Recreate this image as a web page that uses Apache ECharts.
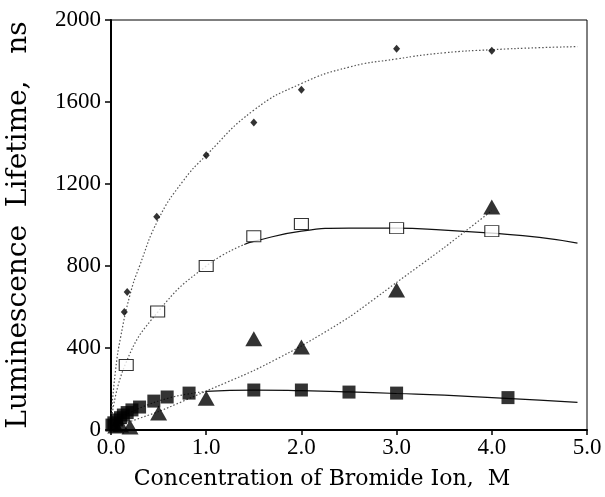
<!DOCTYPE html>
<html><head><meta charset="utf-8">
<script src="https://cdn.jsdelivr.net/npm/echarts@6/dist/echarts.min.js"></script>
<style>html,body{margin:0;padding:0;background:#fff}#c{width:605px;height:497px}</style>
</head><body><div id="c"></div>
<script>
// data
const diamondPts = [[0.14,576],[0.17,673],[0.48,1040],[1.0,1340],[1.5,1500],[2.0,1660],[3.0,1860],[4.0,1850]];
const diamondFit = [[0,60],[0.05,300],[0.1,450],[0.2,660],[0.3,800],[0.5,1030],[0.75,1210],[1.0,1340],[1.5,1560],[2.0,1690],[2.5,1770],[3.0,1810],[3.5,1840],[4.0,1855],[4.5,1865],[4.9,1870]];
const openSqPts = [[0.16,317],[0.49,578],[1.0,800],[1.5,945],[2.0,1005],[3.0,985],[4.0,970]];
const openSqFitA = [[0,30],[0.15,320],[0.5,580],[1.0,800],[1.4,905]];
const openSqFitB = [[1.4,905],[1.5,920],[2.0,970],[2.5,985],[3.0,985],[3.5,975],[4.0,960],[4.5,940],[4.9,912]];
const triPts = [[0.05,20],[0.1,25],[0.2,15],[0.5,83],[1.0,155],[1.5,445],[2.0,405],[3.0,683],[4.0,1088]];
const triFit = [[0,10],[0.5,90],[1.0,190],[1.5,290],[2.0,410],[2.5,550],[3.0,720],[3.5,890],[4.0,1070]];
const fillSqPts = [[0.01,24],[0.03,35],[0.06,49],[0.1,60],[0.13,73],[0.17,85],[0.22,98],[0.3,112],[0.45,141],[0.59,161],[0.82,180],[1.5,195],[2.0,195],[2.5,185],[3.0,180],[4.17,158]];
const fillSqFitA = [[0,20],[0.1,60],[0.2,85],[0.4,125],[0.6,155],[0.8,175],[1.0,188]];
const fillSqFitB = [[1.0,188],[1.5,195],[2.0,192],[2.5,186],[3.0,178],[3.5,170],[4.0,158],[4.5,146],[4.9,135]];
const xTicks = ['0.0','1.0','2.0','3.0','4.0','5.0'];
const yTicks = ['0','400','800','1200','1600','2000'];

const serif = 'Liberation Serif';
const wide = 'DejaVu Serif';
const chart = echarts.init(document.getElementById('c'));
const dotted = (data, sm) => ({type:'line', data, symbol:'none', smooth:sm, lineStyle:{color:'#555', width:1.2, type:[1.5,2]}, z:1});
const solid = (data) => ({type:'line', data, symbol:'none', smooth:true, lineStyle:{color:'#111', width:1.2}, z:1});
chart.setOption({
  animation:false,
  grid:{left:111, right:18, top:20, bottom:67, show:true, borderColor:'#000', borderWidth:1, outerBoundsMode:'none', containLabel:false},
  xAxis:{type:'value', min:0, max:5, interval:1,
    name:'Concentration of Bromide Ion,  M', nameLocation:'middle', nameGap:38,
    nameTextStyle:{fontFamily:wide, fontSize:22, color:'#000', padding:[0,54,0,0]},
    axisLine:{lineStyle:{color:'#000', width:2}}, axisTick:{length:5, lineStyle:{color:'#000', width:1.5}},
    axisLabel:{fontFamily:serif, fontSize:23, color:'#000', margin:6, formatter:(v)=>xTicks[Math.round(v)]},
    splitLine:{show:false}},
  yAxis:{type:'value', min:0, max:2000, interval:400,
    name:'Luminescence  Lifetime,   ns', nameLocation:'middle', nameGap:78,
    nameTextStyle:{fontFamily:wide, fontSize:28, color:'#000'},
    axisLine:{lineStyle:{color:'#000', width:2}}, axisTick:{length:6, lineStyle:{color:'#000', width:1.5}},
    axisLabel:{fontFamily:serif, fontSize:23, color:'#000', margin:10, formatter:(v)=>yTicks[Math.round(v/400)]},
    splitLine:{show:false}},
  series:[
    dotted(diamondFit, true),
    dotted(openSqFitA, true), solid(openSqFitB),
    dotted(triFit, 0.2),
    dotted(fillSqFitA, true), solid(fillSqFitB),
    {type:'scatter', data:diamondPts, symbol:'diamond', symbolSize:[7,8], itemStyle:{color:'#000'}, z:3},
    {type:'scatter', data:openSqPts, symbol:'rect', symbolSize:[14,11], itemStyle:{color:'#fff', borderColor:'#000', borderWidth:1}, z:3},
    {type:'scatter', data:triPts, symbol:'triangle', symbolSize:[17,15], itemStyle:{color:'#000'}, z:3},
    {type:'scatter', data:fillSqPts, symbol:'rect', symbolSize:13, itemStyle:{color:'#000'}, z:4}
  ]
});
</script></body></html>
